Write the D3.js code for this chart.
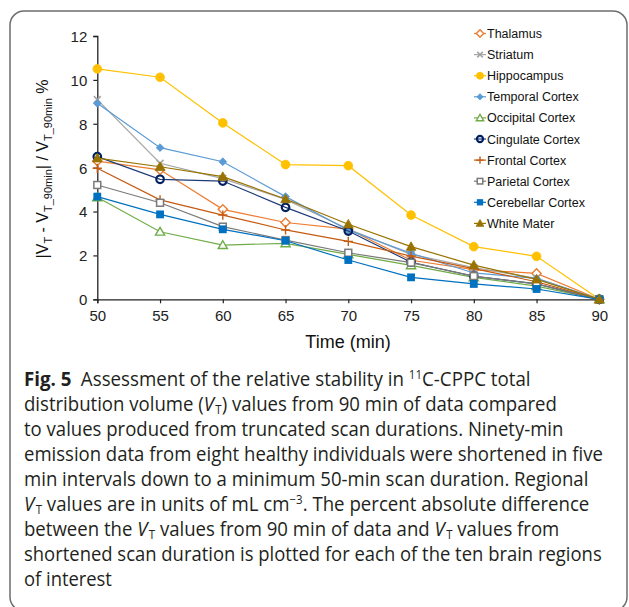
<!DOCTYPE html>
<html><head><meta charset="utf-8">
<script src="https://cdn.jsdelivr.net/npm/d3@7"></script>
<style>html,body{margin:0;padding:0;background:#fff;}svg{display:block;}</style>
</head><body>
<svg id="c" width="629" height="607"></svg>
<script>
const times = [50, 55, 60, 65, 70, 75, 80, 85, 90];
const yTicks = [0, 2, 4, 6, 8, 10, 12];
const regions = ["Thalamus","Striatum","Hippocampus","Temporal Cortex","Occipital Cortex","Cingulate Cortex","Frontal Cortex","Parietal Cortex","Cerebellar Cortex","White Mater"];
const thalamus   = [6.30, 5.90, 4.10, 3.50, 3.20, 1.78, 1.35, 1.18, 0];
const striatum   = [9.10, 6.20, 5.50, 4.55, 3.20, 2.05, 1.45, 0.95, 0];
const hippocampus= [10.50,10.12,8.04, 6.14, 6.09, 3.84, 2.40, 1.96, 0];
const temporal   = [8.93, 6.91, 6.27, 4.68, 3.15, 2.10, 1.20, 0.95, 0];
const occipital  = [4.65, 3.08, 2.47, 2.55, 2.05, 1.55, 1.00, 0.60, 0];
const cingulate  = [6.50, 5.47, 5.39, 4.19, 3.11, 1.69, 1.05, 0.70, 0];
const frontal    = [5.97, 4.53, 3.84, 3.16, 2.64, 1.97, 1.40, 0.80, 0];
const parietal   = [5.21, 4.40, 3.31, 2.70, 2.12, 1.67, 1.06, 0.70, 0];
const cerebellar = [4.68, 3.87, 3.19, 2.67, 1.79, 1.00, 0.70, 0.47, 0];
const whiteMater = [6.43, 6.04, 5.59, 4.57, 3.42, 2.40, 1.56, 0.91, 0];
const seriesValues = [thalamus, striatum, hippocampus, temporal, occipital, cingulate, frontal, parietal, cerebellar, whiteMater];
const colors = ["#ED7D31","#A5A5A5","#FFC000","#5B9BD5","#70AD47","#1F3C78","#C55A11","#7A7A7A","#0070C0","#997300"];
const markers = ["diamondOpen","x","circle","diamond","triangleOpen","circleOpen","plus","squareOpen","square","triangle"];

const svg = d3.select("#c");
const FONT = "'Liberation Sans', Arial, sans-serif";

// border
svg.append("rect").attr("x",10).attr("y",11).attr("width",617).attr("height",600)
  .attr("rx",14).attr("fill","none").attr("stroke","#6e6e6e").attr("stroke-width",1.5);

const x = d3.scaleLinear().domain([50,90]).range([97.3,599.3]);
const y = d3.scaleLinear().domain([0,12]).range([299.3,36]);

// axes
const gx = svg.append("g").attr("transform",`translate(0,${y(0)})`)
  .call(d3.axisBottom(x).tickValues(times).tickSize(4).tickPadding(7).tickFormat(d3.format("d")));
const gy = svg.append("g").attr("transform",`translate(${x(50)},0)`)
  .call(d3.axisLeft(y).tickValues(yTicks).tickSize(4).tickPadding(6).tickFormat(d3.format("d")));
[gx,gy].forEach(g=>{
  g.select(".domain").attr("stroke","#222").attr("stroke-width",1.3);
  g.selectAll(".tick line").attr("stroke","#222").attr("stroke-width",1.2);
  g.selectAll(".tick text").attr("fill","#222").style("font-family",FONT).style("font-size","15px");
});
gy.selectAll(".tick text").attr("dy","0.36em");

// axis titles
svg.append("text").attr("x",348).attr("y",348).attr("text-anchor","middle")
  .style("font-family",FONT).style("font-size","18px").attr("fill","#111").text("Time (min)");
const yt = svg.append("text").attr("transform","translate(48,169) rotate(-90)").attr("text-anchor","middle")
  .style("font-family",FONT).style("font-size","16px").attr("fill","#111");
const ySegs = [["|V",0],["T",1],[" - V",0],["T_90min",1],["| / V",0],["T_90min",1],[" %",0]];
let prevSub = 0;
ySegs.forEach(([t,sub])=>{
  const dy = sub && !prevSub ? 4 : (!sub && prevSub ? -4 : 0);
  yt.append("tspan").attr("dy",dy).style("font-size",sub?"11px":"16px").text(t);
  prevSub = sub;
});

// marker drawing
function drawMarker(g, type, cx, cy, color, s) {
  const r = s;
  const white = "#fff";
  switch(type){
    case "diamondOpen":
      g.append("path").attr("d",`M${cx},${cy-r}L${cx+r},${cy}L${cx},${cy+r}L${cx-r},${cy}Z`)
        .attr("fill",white).attr("stroke",color).attr("stroke-width",1.4); break;
    case "diamond":
      g.append("path").attr("d",`M${cx},${cy-r*0.85}L${cx+r*0.85},${cy}L${cx},${cy+r*0.85}L${cx-r*0.85},${cy}Z`)
        .attr("fill",color).attr("stroke",color).attr("stroke-width",0.8); break;
    case "x":
      g.append("path").attr("d",`M${cx-r*0.75},${cy-r*0.75}L${cx+r*0.75},${cy+r*0.75}M${cx-r*0.75},${cy+r*0.75}L${cx+r*0.75},${cy-r*0.75}`)
        .attr("fill","none").attr("stroke",color).attr("stroke-width",1.6); break;
    case "plus":
      g.append("path").attr("d",`M${cx-r},${cy}L${cx+r},${cy}M${cx},${cy-r}L${cx},${cy+r}`)
        .attr("fill","none").attr("stroke",color).attr("stroke-width",1.4); break;
    case "circle":
      g.append("circle").attr("cx",cx).attr("cy",cy).attr("r",r*0.95).attr("fill",color).attr("stroke",color).attr("stroke-width",0.8); break;
    case "circleOpen":
      g.append("circle").attr("cx",cx).attr("cy",cy).attr("r",r*0.82).attr("fill","none").attr("stroke","#002060").attr("stroke-width",2.2); break;
    case "squareOpen":
      g.append("rect").attr("x",cx-r*0.75).attr("y",cy-r*0.75).attr("width",r*1.5).attr("height",r*1.5)
        .attr("fill",white).attr("stroke",color).attr("stroke-width",1.5); break;
    case "square":
      g.append("rect").attr("x",cx-r*0.85).attr("y",cy-r*0.85).attr("width",r*1.7).attr("height",r*1.7)
        .attr("fill",color).attr("stroke","none"); break;
    case "triangleOpen":
      g.append("path").attr("d",`M${cx},${cy-r*0.95}L${cx+r},${cy+r*0.75}L${cx-r},${cy+r*0.75}Z`)
        .attr("fill",white).attr("stroke",color).attr("stroke-width",1.4); break;
    case "triangle":
      g.append("path").attr("d",`M${cx},${cy-r*1.05}L${cx+r*1.05},${cy+r*0.8}L${cx-r*1.05},${cy+r*0.8}Z`)
        .attr("fill",color).attr("stroke",color).attr("stroke-width",0.8); break;
  }
}

// series
const line = d3.line().x((d,i)=>x(times[i])).y(d=>y(d));
const plot = svg.append("g");
seriesValues.forEach((vals,k)=>{
  const g = plot.append("g");
  g.append("path").attr("d",line(vals)).attr("fill","none").attr("stroke",colors[k]).attr("stroke-width",1.2);
  vals.forEach((v,i)=>drawMarker(g, markers[k], x(times[i]), y(v), colors[k], 4.6));
});

// legend
const lg = svg.append("g");
regions.forEach((name,k)=>{
  const ly = 33.5 + 21.1*k;
  lg.append("line").attr("x1",474).attr("x2",486).attr("y1",ly).attr("y2",ly).attr("stroke",colors[k]).attr("stroke-width",1.2);
  drawMarker(lg, markers[k], 480, ly, colors[k], 3.7);
  lg.append("text").attr("x",487).attr("y",ly).attr("dy","0.36em")
    .style("font-family",FONT).style("font-size","12.5px").attr("fill","#111").text(name);
});

// caption
const capLines = [
  {w:507, segs:[{t:"Fig. 5",b:1},{t:"\u2002Assessment of the relative stability in "},{t:"11",sup:1},{t:"C-CPPC total"}]},
  {w:532, segs:[{t:"distribution volume ("},{t:"V",i:1},{t:"T",sub:1},{t:") values from 90 min of data compared"}]},
  {w:540, segs:[{t:"to values produced from truncated scan durations. Ninety-min"}]},
  {w:579, segs:[{t:"emission data from eight healthy individuals were shortened in five"}]},
  {w:565, segs:[{t:"min intervals down to a minimum 50-min scan duration. Regional"}]},
  {w:564, segs:[{t:"V",i:1},{t:"T",sub:1},{t:" values are in units of mL cm"},{t:"\u22123",sup:1},{t:". The percent absolute difference"}]},
  {w:533, segs:[{t:"between the "},{t:"V",i:1},{t:"T",sub:1},{t:" values from 90 min of data and "},{t:"V",i:1},{t:"T",sub:1},{t:" values from"}]},
  {w:578, segs:[{t:"shortened scan duration is plotted for each of the ten brain regions"}]},
  {w:88,  segs:[{t:"of interest"}]}
];
const cap = svg.append("g");
capLines.forEach((ln,i)=>{
  const t = cap.append("text").attr("x",0).attr("y",0)
    .style("font-family","'Open Sans', 'Noto Sans', sans-serif").style("font-size","19.5px").attr("fill","#231F20");
  let shift = 0;
  ln.segs.forEach(s=>{
    const target = s.sub ? 3 : (s.sup ? -7 : 0);
    const sp = t.append("tspan").attr("dy",target-shift).text(s.t);
    shift = target;
    if (s.b) sp.style("font-weight","700");
    if (s.i) sp.style("font-style","italic");
    if (s.sub) sp.attr("dx",1.5);
    if (s.sub||s.sup) sp.style("font-size","12px");
  });
  const nat = t.node().getComputedTextLength();
  const k = ln.w / nat;
  t.attr("transform",`translate(24,${386+25*i}) scale(${k},1)`);
});
</script>
</body></html>
